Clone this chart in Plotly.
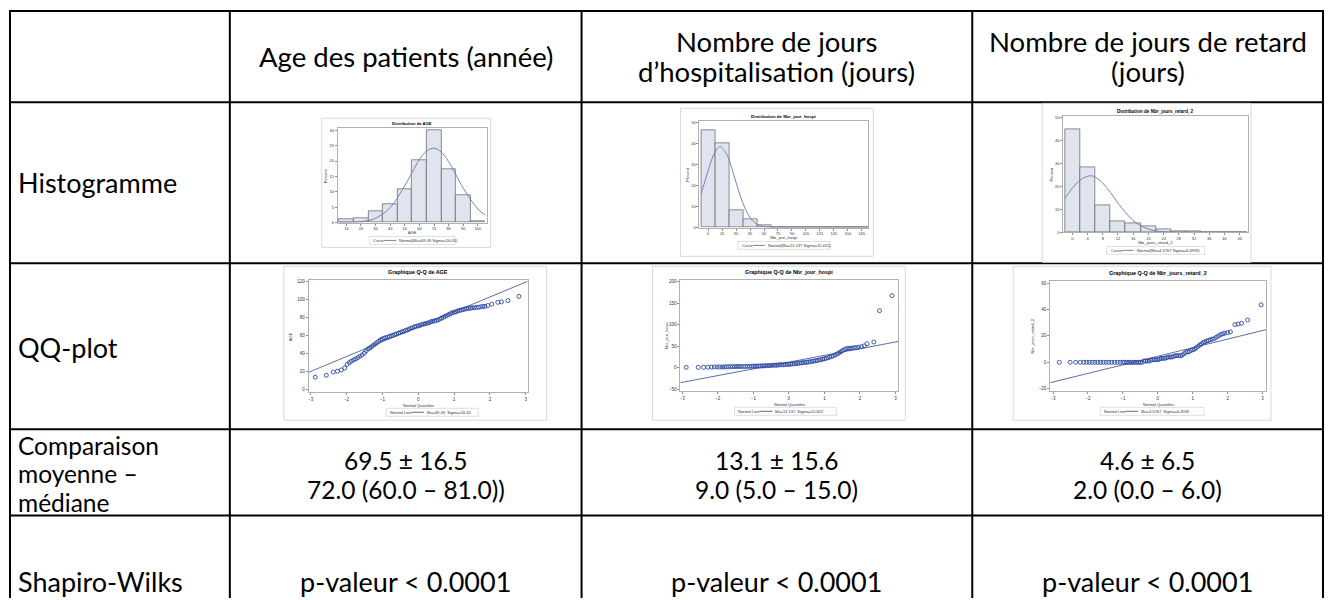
import plotly.graph_objects as go

# page body adds an 8px margin; figure is sized/positioned to compensate
OFF = 8
W, H = 1333 - OFF, 600 - OFF

# ---------------- table text ----------------
header_age = ["Age des patients (année)"]
header_hospi = ["Nombre de jours", "d’hospitalisation (jours)"]
header_retard = ["Nombre de jours de retard", "(jours)"]
row_hist = "Histogramme"
row_qq = "QQ-plot"
row_comp = ["Comparaison", "moyenne –", "médiane"]
row_sw = "Shapiro-Wilks"
mean_sd = ["69.5 ± 16.5", "13.1 ± 15.6", "4.6 ± 6.5"]
median_iqr = ["72.0 (60.0 – 81.0))", "9.0 (5.0 – 15.0)", "2.0 (0.0 – 6.0)"]
sw_pvalue = ["p-valeur < 0.0001", "p-valeur < 0.0001", "p-valeur < 0.0001"]

# ---------------- histogram data (percent) ----------------
age_mid = [10, 20, 30, 40, 50, 60, 70, 80, 90, 100]
age_pct = [1.0, 1.4, 3.7, 5.9, 10.9, 20.2, 30.0, 17.3, 8.8, 0.6]
age_curve_x = [5, 20, 30, 40, 50, 60, 65, 70, 75, 80, 90, 100, 105]
age_curve_y = [0.1, 0.3, 1.4, 4.9, 12.0, 20.5, 23.3, 24.2, 22.9, 19.8, 11.2, 4.4, 2.4]

hospi_mid = [0, 15, 30, 45, 60, 75, 90, 105, 120, 135, 150, 165]
hospi_pct = [46.0, 40.0, 8.1, 3.9, 1.1, 0, 0, 0, 0, 0.3, 0, 0.3]
hospi_curve_x = [-7.5, 0, 5, 10, 13, 20, 25, 30, 35, 40, 45, 50, 55, 60, 65, 70, 80, 172]
hospi_curve_y = [16.1, 27.0, 33.6, 37.6, 38.4, 34.8, 28.7, 21.4, 14.4, 8.7, 4.8, 2.3, 1.0, 0.4, 0.15, 0.05, 0, 0]

retard_mid = [0, 4, 8, 12, 16, 20, 24, 28, 32, 36, 40, 44]
retard_pct = [44.8, 28.3, 11.6, 5.0, 4.0, 2.5, 1.4, 0.6, 0.6, 0, 0, 0.3]
retard_curve_x = [-2, 0, 2, 4.6, 6, 8, 10, 12, 14, 16, 18, 20, 22, 24, 28, 32, 46]
retard_curve_y = [14.7, 19.2, 22.7, 24.6, 24.0, 21.4, 17.4, 12.8, 8.6, 5.2, 2.9, 1.5, 0.7, 0.3, 0.03, 0, 0]

# ---------------- QQ-plot data ----------------
qq_age_x = [-2.87, -2.56, -2.37, -2.25, -2.14, -2.05, -1.98, -1.92, -1.86, -1.80, -1.74, -1.68,
            -1.62, -1.56, -1.50, -1.45, -1.40, -1.35, -1.30, -1.25, -1.20, -1.15, -1.10, -1.05,
            -1.00, -0.95, -0.90, -0.85, -0.80, -0.75, -0.70, -0.65, -0.60, -0.55, -0.50, -0.45,
            -0.40, -0.35, -0.30, -0.25, -0.20, -0.15, -0.10, -0.05, 0.00, 0.05, 0.10, 0.15,
            0.20, 0.25, 0.30, 0.35, 0.40, 0.45, 0.50, 0.55, 0.60, 0.65, 0.70, 0.75, 0.80, 0.85,
            0.90, 0.95, 1.00, 1.05, 1.10, 1.15, 1.20, 1.25, 1.30, 1.35, 1.40, 1.45, 1.50, 1.56,
            1.62, 1.68, 1.74, 1.80, 1.86, 1.94, 2.05, 2.22, 2.32, 2.50, 2.81]
qq_age_y = [13.9, 15.9, 19.5, 20.5, 21.8, 24, 28, 30, 31.5, 33, 34, 35.5,
            37, 38.5, 40.5, 43, 45, 46, 47.5, 49, 50.5, 52, 53.5, 55,
            56, 57, 57.5, 58, 59, 59.5, 60, 61, 61.5, 62.5, 63, 64,
            64.5, 65.5, 66, 67, 68, 68.5, 69.5, 70, 70.5, 71, 72, 72.5,
            73, 73.5, 74, 75, 75.5, 76, 76.5, 77, 78, 79, 80, 81, 82, 83,
            84, 85, 85.5, 86, 87, 87.5, 88, 88.5, 89, 89.5, 90, 90, 90.5, 90.5,
            91, 91, 91.5, 92, 92, 93, 94.5, 96.5, 97, 98.5, 103]
qq_age_line_x = [-3.05, 3.05]
qq_age_line_y = [19.3, 119.7]

qq_hospi_x = [-2.89, -2.55, -2.40, -2.28, -2.18, -2.10, -2.02, -1.95, -1.88, -1.82, -1.76, -1.70,
              -1.64, -1.58, -1.52, -1.46, -1.40, -1.34, -1.28, -1.22, -1.16, -1.10, -1.05,
              -1.00, -0.95, -0.90, -0.85, -0.80, -0.75, -0.70, -0.65, -0.60, -0.55, -0.50, -0.45,
              -0.40, -0.35, -0.30, -0.25, -0.20, -0.15, -0.10, -0.05, 0.00, 0.05, 0.10, 0.15,
              0.20, 0.25, 0.30, 0.35, 0.40, 0.45, 0.50, 0.55, 0.60, 0.65, 0.70, 0.75, 0.80, 0.85,
              0.90, 0.95, 1.00, 1.05, 1.10, 1.15, 1.20, 1.25, 1.30, 1.35, 1.40, 1.45, 1.50,
              1.55, 1.60, 1.66, 1.72, 1.78, 1.84, 1.90, 1.96, 2.04, 2.12, 2.20, 2.39, 2.55, 2.90]
qq_hospi_y = [1, 1, 1, 1.5, 1.5, 2, 2, 2, 2, 2, 2, 2.5,
              2.5, 2.5, 3, 3, 3, 3, 3, 3, 3.5, 3.5, 3.5,
              3.5, 4, 4, 4, 4, 4.5, 4.5, 5, 5, 5, 5.5, 6,
              6, 6, 6.5, 7, 7, 7, 7.5, 8, 8, 8.5, 9, 9.5,
              10, 10.5, 11, 11.5, 12, 12.5, 13, 13.5, 14, 15, 15.5, 16.5, 17, 18,
              19, 20, 21, 22, 23.5, 25, 26.5, 28, 30, 32, 34, 37, 39.5,
              42, 44, 45, 45.5, 46, 46.5, 47, 48, 49, 51, 56, 60, 133, 168]
qq_hospi_line_x = [-3.05, 3.08]
qq_hospi_line_y = [-34.6, 61.3]

qq_retard_x = [-2.82, -2.51, -2.35, -2.22, -2.12, -2.04, -1.96, -1.88, -1.80, -1.72, -1.64, -1.56,
               -1.48, -1.40, -1.32, -1.24, -1.16, -1.08, -1.00, -0.95, -0.90, -0.85, -0.80, -0.75,
               -0.70, -0.65, -0.60, -0.55, -0.50, -0.45, -0.40, -0.35, -0.30, -0.25, -0.20, -0.15,
               -0.10, -0.05, 0.00, 0.05, 0.10, 0.15, 0.20, 0.25, 0.30, 0.35, 0.40, 0.45, 0.50, 0.55,
               0.60, 0.65, 0.70, 0.75, 0.80, 0.85, 0.90, 0.95, 1.00, 1.05, 1.10, 1.15, 1.20, 1.25,
               1.30, 1.35, 1.40, 1.45, 1.50, 1.56, 1.62, 1.68, 1.74, 1.80, 1.86, 1.92, 2.00, 2.08,
               2.21, 2.30, 2.40, 2.57, 2.96]
qq_retard_y = [0, 0, 0, 0, 0, 0, 0, 0, 0, 0, 0, 0,
               0, 0, 0, 0, 0, 0, 0, 0, 0, 0, 0, 0,
               0, 0, 0, 0, 0, 0, 1, 1, 1, 1, 1.5, 2,
               2, 2, 2, 2.5, 3, 3, 3, 3.5, 4, 4, 4, 4.5, 5, 5,
               5, 5, 5.5, 6.5, 7.5, 8, 8, 9, 9.5, 10, 11, 12, 13, 14,
               15, 15.5, 16, 16.5, 17, 17.5, 18, 19, 20, 21, 21.5, 22, 22.5, 23,
               28.5, 29, 29.5, 32, 43.5]
qq_retard_line_x = [-3.08, 3.1]
qq_retard_line_y = [-15.4, 24.7]

hist_titles = ["Distribution de AGE", "Distribution de Nbr_jour_hospi", "Distribution de Nbr_jours_retard_2"]
hist_xtitles = ["AGE", "Nbr_jour_hospi", "Nbr_jours_retard_2"]
hist_legends = ["Normal(Mu=69.49 Sigma=16.45)", "Normal(Mu=13.137 Sigma=15.652)", "Normal(Mu=4.5767 Sigma=6.4939)"]
qq_titles = ["Graphique Q-Q de AGE", "Graphique Q-Q de Nbr_jour_hospi", "Graphique Q-Q de Nbr_jours_retard_2"]
qq_ytitles = ["AGE", "Nbr_jour_hospi", "Nbr_jours_retard_2"]
qq_legends = ["Mu=69.49, Sigma=16.45", "Mu=13.137, Sigma=15.652", "Mu=4.5767, Sigma=6.4939"]

# ---------------- helpers (page pixel -> paper) ----------------
def fx(p):
    return (p - OFF) / W

def fy(p):
    return 1 - (p - OFF) / H

BIG = "Lato"
SMALL = "Liberation Sans"
annotations = []
shapes = []

def txt(x, y, s, size, family=BIG, bold=False, xanchor="center", color="#000", angle=0, height=None):
    if bold:
        s = "<b>" + s + "</b>"
    a = dict(x=fx(x), y=fy(y), xref="paper", yref="paper", text=s, showarrow=False,
             xanchor=xanchor, yanchor="middle", textangle=angle, borderpad=0,
             font=dict(family=family, size=size, color=color))
    if height is not None:
        a["height"] = height
    annotations.append(a)

def hline(x0, x1, y, color="#000", width=2):
    shapes.append(dict(type="line", xref="paper", yref="paper", x0=fx(x0), x1=fx(x1), y0=fy(y), y1=fy(y),
                       line=dict(color=color, width=width)))

def vline(x, y0, y1, color="#000", width=2):
    shapes.append(dict(type="line", xref="paper", yref="paper", x0=fx(x), x1=fx(x), y0=fy(y0), y1=fy(y1),
                       line=dict(color=color, width=width)))

def rect(x0, y0, x1, y1, color="#d9d9d9", width=1):
    shapes.append(dict(type="rect", xref="paper", yref="paper", x0=fx(x0), x1=fx(x1), y0=fy(y1), y1=fy(y0),
                       line=dict(color=color, width=width), fillcolor="rgba(0,0,0,0)"))

# ---------------- table grid ----------------
col_x = [9, 229, 581, 972, 1323]
row_y = [9, 101, 263, 430, 517]
for yy in row_y:
    hline(col_x[0] - 1, col_x[-1] + 1, yy)
for xx in col_x:
    vline(xx, row_y[0] - 1, 600)

centers = [405, 776.5, 1147.5]
FS = 27
txt(centers[0], 55, header_age[0], 27.5)
txt(centers[1], 40, header_hospi[0], 27.5)
txt(centers[1], 70, header_hospi[1], 27.5)
txt(centers[2], 40, header_retard[0], 27.5)
txt(centers[2], 70, header_retard[1], 27.5)

LX = 16
txt(LX, 182, row_hist, FS, xanchor="left")
txt(LX, 348, row_qq, FS, xanchor="left")
for i, s in enumerate(row_comp):
    txt(LX, 446 + 28.5 * i, s, 24.5, xanchor="left", height=28)
txt(LX, 583, row_sw, FS, xanchor="left")
for i in range(3):
    txt(centers[i], 461, mean_sd[i], 24.5, height=28)
    txt(centers[i], 490, median_iqr[i], 24.5, height=28)
    txt(centers[i], 583, sw_pvalue[i], FS)

# ---------------- embedded charts ----------------
BAR_FILL = "#dfe4ef"
BAR_LINE = "#6e6e6e"
CURVE = "#7582b8"
MARK = "#2c48a0"
QLINE = "#5a6fa5"

def axis(dom_x, rng, tickvals=None, dtick=None, tick0=None, size=4):
    d = dict(domain=dom_x, range=rng, showgrid=False, zeroline=False, showline=True, mirror=True,
             linecolor="#b0b0b0", linewidth=1, ticks="outside", ticklen=2, tickwidth=0.6,
             tickcolor="#8a8a8a", fixedrange=True,
             tickfont=dict(family=SMALL, size=size, color="#333"))
    if tickvals is not None:
        d["tickmode"] = "array"
        d["tickvals"] = tickvals
    if dtick is not None:
        d["tickmode"] = "linear"
        d["dtick"] = dtick
        d["tick0"] = tick0 if tick0 is not None else 0
    return d

layout_axes = {}
# plot area rectangles (page px): x0, x1, y0, y1
hist_areas = [(337, 486, 127, 222), (699, 868, 120, 227), (1063, 1248, 115, 232)]
qq_areas = [(308, 527, 280, 393), (680, 898, 280, 392), (1050, 1266, 281, 392)]
hist_boxes = [(321, 117, 490, 247), (680, 107, 873, 256), (1042, 102, 1251, 262)]
qq_boxes = [(283, 266, 546, 421), (652, 266, 905, 421), (1013, 266, 1271, 421)]

hist_data = [(age_mid, age_pct, 10, age_curve_x, age_curve_y, [4.1, 106], [0, 30.7], age_mid, 5),
             (hospi_mid, hospi_pct, 15, hospi_curve_x, hospi_curve_y, [-9.3, 172], [0, 50.5], hospi_mid, 10),
             (retard_mid, retard_pct, 4, retard_curve_x, retard_curve_y, [-2.4, 46.2], [0, 50.4], retard_mid, 10)]
qq_data = [(qq_age_x, qq_age_y, qq_age_line_x, qq_age_line_y, [-3.05, 3.05], [-3, 121], 20),
           (qq_hospi_x, qq_hospi_y, qq_hospi_line_x, qq_hospi_line_y, [-3.05, 3.08], [-55, 204], 50),
           (qq_retard_x, qq_retard_y, qq_retard_line_x, qq_retard_line_y, [-3.08, 3.1], [-22, 61.4], 20)]

fig = go.Figure()
ax_i = 0
for k in range(3):
    ax_i += 1
    sx = "" if ax_i == 1 else str(ax_i)
    mids, pct, bw, cx, cy, xr, yr, tv, ydt = hist_data[k]
    x0, x1, y0, y1 = hist_areas[k]
    layout_axes["xaxis" + sx] = dict(axis([fx(x0), fx(x1)], xr, tickvals=tv), anchor="y" + sx)
    layout_axes["yaxis" + sx] = dict(axis([fy(y1), fy(y0)], yr, dtick=ydt), anchor="x" + sx)
    fig.add_trace(go.Bar(x=mids, y=pct, width=bw, xaxis="x" + sx, yaxis="y" + sx,
                         marker=dict(color=BAR_FILL, line=dict(color=BAR_LINE, width=0.8)),
                         showlegend=False, hoverinfo="skip"))
    fig.add_trace(go.Scatter(x=cx, y=cy, mode="lines", line=dict(color=CURVE, width=1, shape="spline"),
                             xaxis="x" + sx, yaxis="y" + sx, showlegend=False, hoverinfo="skip"))
    bx0, by0, bx1, by1 = hist_boxes[k]
    rect(bx0, by0, bx1, by1)
    cxm = (x0 + x1) / 2
    tsize = [4.2, 4.4, 4.6][k]
    txt(cxm, y0 - 5, hist_titles[k], tsize, family=SMALL, bold=True)
    txt(cxm, y1 + 10, hist_xtitles[k], 4, family=SMALL, color="#333")
    txt(x0 - 12, (y0 + y1) / 2, "Percent", 4, family=SMALL, color="#333", angle=-90)
    # legend
    ly = y1 + 18
    lw = [56, 62, 68][k]
    lx0 = cxm - (lw + 30) / 2
    rect(lx0, ly - 4, lx0 + lw + 30, ly + 4, color="#c8c8c8", width=0.6)
    txt(lx0 + 3, ly, "Curve", 4, family=SMALL, xanchor="left", color="#333")
    shapes.append(dict(type="line", xref="paper", yref="paper", x0=fx(lx0 + 15), x1=fx(lx0 + 27),
                       y0=fy(ly), y1=fy(ly), line=dict(color=CURVE, width=1)))
    txt(lx0 + 29, ly, hist_legends[k], 4, family=SMALL, xanchor="left", color="#333")

for k in range(3):
    ax_i += 1
    sx = str(ax_i)
    qx, qy, lx, lyv, xr, yr, ydt = qq_data[k]
    x0, x1, y0, y1 = qq_areas[k]
    layout_axes["xaxis" + sx] = dict(axis([fx(x0), fx(x1)], xr, dtick=1, tick0=0, size=4.5), anchor="y" + sx)
    layout_axes["yaxis" + sx] = dict(axis([fy(y1), fy(y0)], yr, dtick=ydt, tick0=0, size=4.5), anchor="x" + sx)
    fig.add_trace(go.Scatter(x=lx, y=lyv, mode="lines", line=dict(color=QLINE, width=1),
                             xaxis="x" + sx, yaxis="y" + sx, showlegend=False, hoverinfo="skip"))
    fig.add_trace(go.Scatter(x=qx, y=qy, mode="markers",
                             marker=dict(symbol="circle-open", size=4, color=MARK, line=dict(width=0.9, color=MARK)),
                             xaxis="x" + sx, yaxis="y" + sx, showlegend=False, hoverinfo="skip"))
    bx0, by0, bx1, by1 = qq_boxes[k]
    rect(bx0, by0, bx1, by1)
    cxm = (x0 + x1) / 2
    txt(cxm, y0 - 8, qq_titles[k], 5.4, family=SMALL, bold=True)
    txt(cxm, y1 + 13, "Normal Quantiles", 4, family=SMALL, color="#333")
    txt(x0 - [19, 14, 18][k], (y0 + y1) / 2, qq_ytitles[k], 4, family=SMALL, color="#333", angle=-90)
    ly = y1 + 20
    lw = [52, 62, 64][k]
    lx0 = cxm + [-32, -55, -58][k]
    rect(lx0, ly - 4, lx0 + lw + 40, ly + 4, color="#c8c8c8", width=0.6)
    txt(lx0 + 3, ly, "Normal Line", 4, family=SMALL, xanchor="left", color="#333")
    shapes.append(dict(type="line", xref="paper", yref="paper", x0=fx(lx0 + 25), x1=fx(lx0 + 38),
                       y0=fy(ly), y1=fy(ly), line=dict(color=QLINE, width=1)))
    txt(lx0 + 40, ly, qq_legends[k], 4, family=SMALL, xanchor="left", color="#333")

fig.update_layout(width=W, height=H, margin=dict(l=0, r=0, t=0, b=0),
                  paper_bgcolor="white", plot_bgcolor="white", bargap=0,
                  annotations=annotations, shapes=shapes, **layout_axes)

fig.write_html("out.html")
